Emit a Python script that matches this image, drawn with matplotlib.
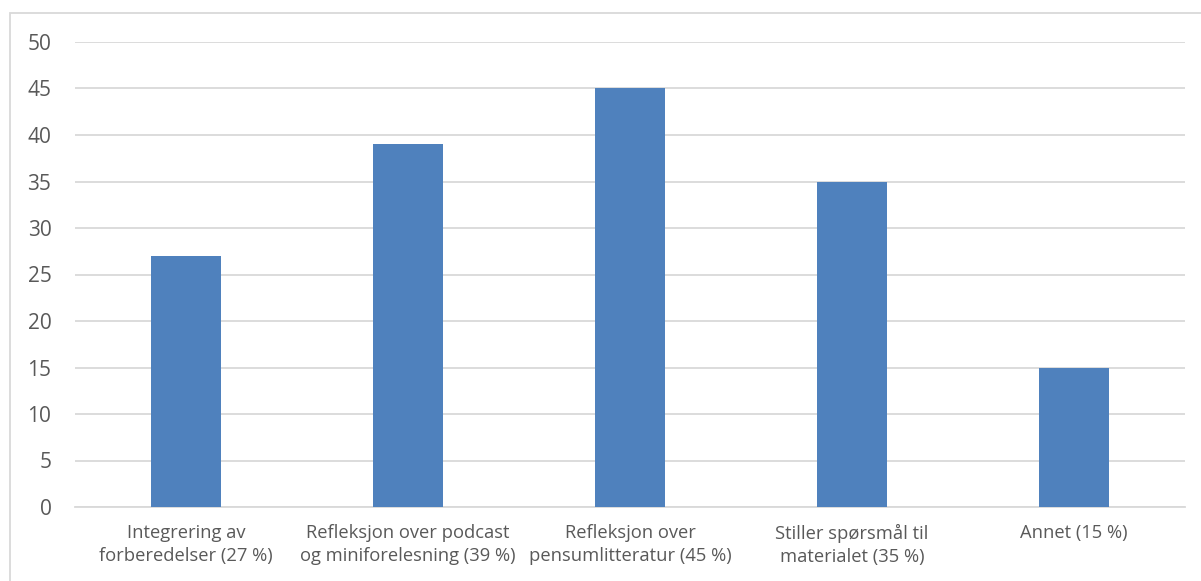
import matplotlib
matplotlib.use('Agg')
import matplotlib.pyplot as plt
from matplotlib.patches import Rectangle

categories = ['Integrering av\nforberedelser (27 %)',
              'Refleksjon over podcast\nog miniforelesning (39 %)',
              'Refleksjon over\npensumlitteratur (45 %)',
              'Stiller spørsmål til\nmaterialet (35 %)',
              'Annet (15 %)']
values = [27, 39, 45, 35, 15]
yticks = [0, 5, 10, 15, 20, 25, 30, 35, 40, 45, 50]

plt.rcParams['font.family'] = ['Open Sans', 'DejaVu Sans']
txt = '#595959'
grid = '#d9d9d9'

fig = plt.figure(figsize=(12.01, 5.81), dpi=100)
ax = fig.add_axes([75/1201, 1-507/581, 1110/1201, 465/581])

x = list(range(len(values)))
ax.bar(x, values, width=0.315, color='#4f81bd', zorder=3)
ax.set_xlim(-0.5, len(values)-0.5)
ax.set_ylim(0, 50)
ax.set_yticks(yticks)
ax.set_yticklabels([str(v) for v in yticks], fontsize=15, color=txt)
ax.set_xticks(x)
ax.set_xticklabels(categories, fontsize=13.2, color=txt, linespacing=1.4)
ax.tick_params(axis='both', length=0)
ax.tick_params(axis='y', pad=17)
ax.tick_params(axis='x', pad=12)
ax.grid(axis='y', color=grid, linewidth=1.3, zorder=0)
for s in ['top', 'right', 'left']:
    ax.spines[s].set_visible(False)
ax.spines['bottom'].set_color(grid)
ax.spines['bottom'].set_linewidth(1.3)

# outer chart frame
fig.patches.append(Rectangle((10/1201, -0.1), 1.2, 1 - 13/581 + 0.1,
                             transform=fig.transFigure, fill=False,
                             edgecolor='#d9d9d9', linewidth=1.3))

fig.savefig('out.png', dpi=100)
